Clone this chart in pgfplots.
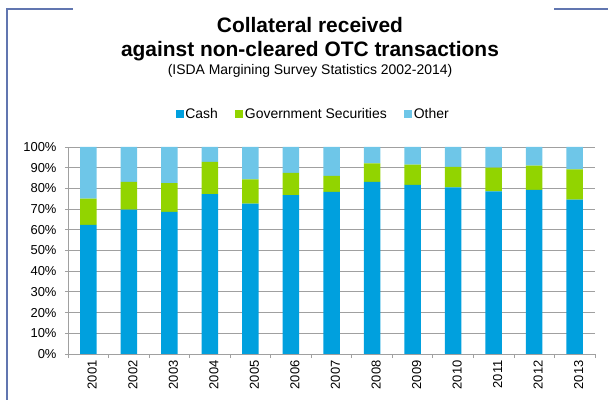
\documentclass[border=0pt]{standalone}
\usepackage{fontspec}
\setmainfont{Liberation Sans}
\usepackage{pgfplots}
\pgfplotsset{compat=1.18}

\definecolor{cashblue}{HTML}{00A0DE}
\definecolor{govgreen}{HTML}{92D400}
\definecolor{otherblue}{HTML}{6EC6E8}
\definecolor{gridgray}{HTML}{A0A0A0}
\definecolor{framecol}{HTML}{6176B0}

\begin{document}
\begin{tikzpicture}
\useasboundingbox (0,0) rectangle (608bp,400bp);

% frame pieces of the slide
\draw[framecol, line width=1.5bp] (7bp,0) -- (7bp,391bp) -- (73bp,391bp);
\draw[framecol, line width=1.5bp] (554bp,391bp) -- (608bp,391bp);

% titles
\node[anchor=base, font=\bfseries\fontsize{21}{24}\selectfont, inner sep=0pt] at (310bp,367bp) {Collateral received};
\node[anchor=base, font=\bfseries\fontsize{21}{24}\selectfont, inner sep=0pt] at (310bp,343bp) {against non-cleared OTC transactions};
\node[anchor=base, font=\fontsize{14}{16}\selectfont, inner sep=0pt] at (310bp,325bp) {(ISDA Margining Survey Statistics 2002-2014)};

\begin{axis}[
    at={(68bp,46bp)}, anchor=south west,
    scale only axis,
    width=527bp, height=207bp,
    ybar stacked,
    bar width=16.5bp,
    xmin=-0.5, xmax=12.5,
    ymin=0, ymax=100,
    xtick={0,...,12},
    xticklabels={2001,2002,2003,2004,2005,2006,2007,2008,2009,2010,2011,2012,2013},
    minor xtick={-0.5,0.5,...,12.5},
    ytick={0,10,...,100},
    yticklabel={\pgfmathprintnumber{\tick}\%},
    /pgf/number format/assume math mode=true,
    axis x line*=bottom,
    axis y line*=left,
    axis line style={gridgray, line width=0.8bp},
    ymajorgrids,
    major grid style={gridgray, line width=0.8bp},
    tick align=outside,
    major tick length=3bp,
    minor tick length=4bp,
    every major x tick/.style={draw=none},
    every minor x tick/.style={gridgray, line width=0.8bp},
    every major y tick/.style={gridgray, line width=0.8bp},
    tick label style={font=\fontsize{13}{15}\selectfont, text=black},
    xticklabel style={rotate=90, anchor=east, yshift=-4bp},
    yticklabel style={xshift=-5bp},
    legend image code/.code={\fill[#1] (0bp,-4bp) rectangle (8bp,4bp);},
    legend columns=3,
    legend style={
        at={(0.465,1.159)}, anchor=center,
        draw=none, fill=none,
        font=\fontsize{14}{16}\selectfont,
        inner sep=0pt,
        nodes={inner sep=1.5bp},
        /tikz/every even column/.append style={column sep=16bp},
    },
]
% Cash
\addplot[fill=cashblue, draw=none] coordinates {
    (0,62.4) (1,69.8) (2,68.6) (3,77.2) (4,72.7) (5,76.7) (6,78.3)
    (7,83.1) (8,81.7) (9,80.5) (10,78.6) (11,79.3) (12,74.6)};
\addlegendentry{Cash}
% Government Securities
\addplot[fill=govgreen, draw=none] coordinates {
    (0,12.7) (1,13.3) (2,14.0) (3,15.6) (4,11.7) (5,10.8) (6,7.7)
    (7,9.0) (8,9.8) (9,9.9) (10,11.4) (11,11.7) (12,14.6)};
\addlegendentry{Government Securities}
% Other
\addplot[fill=otherblue, draw=none] coordinates {
    (0,24.9) (1,16.9) (2,17.4) (3,7.2) (4,15.6) (5,12.5) (6,14.0)
    (7,7.9) (8,8.5) (9,9.6) (10,10.0) (11,9.0) (12,10.8)};
\addlegendentry{Other}
\end{axis}
\end{tikzpicture}
\end{document}
